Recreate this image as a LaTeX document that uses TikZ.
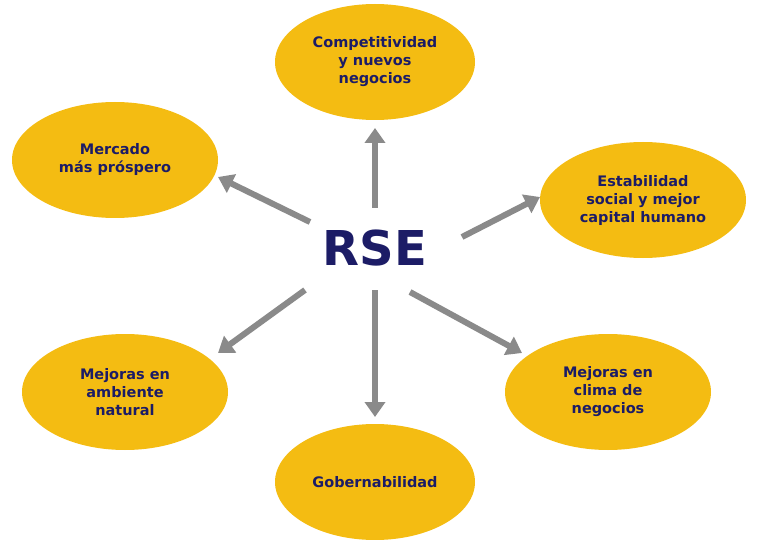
\documentclass[tikz,border=0pt]{standalone}
\usepackage{fontspec}
\setmainfont{DejaVu Sans}
\usetikzlibrary{shapes.geometric,arrows.meta}
\definecolor{oro}{HTML}{F4BC12}
\definecolor{navy}{HTML}{1C1C66}
\definecolor{gris}{HTML}{8A8A8A}
\tikzset{
  elip/.style={ellipse,fill=oro,draw=none,minimum width=#1,minimum height=116pt,inner sep=0pt,align=center,font=\bfseries\fontsize{14.5}{18}\selectfont,text=navy},
  elip/.default=206pt,
  flecha/.style={draw=gris,line width=6pt,-{Triangle[length=15pt,width=20pt]}}
}
\begin{document}
\begin{tikzpicture}[x=1pt,y=-1pt]
\useasboundingbox (0,0) rectangle (760,540);
\node[elip=200pt] (comp) at (375,62) {Competitividad\\y nuevos\\negocios};
\node[elip] (merc) at (115,160) {Mercado\\más próspero};
\node[elip] (est) at (643,200) {Estabilidad\\social y mejor\\capital humano};
\node[elip] (amb) at (125,392) {Mejoras en\\ambiente\\natural};
\node[elip] (clima) at (608,392) {Mejoras en\\clima de\\negocios};
\node[elip=200pt] (gob) at (375,482) {Gobernabilidad};
\node[font=\bfseries\fontsize{48}{50}\selectfont,text=navy] (rse) at (375,248) {RSE};
\coordinate (a1) at (375,208); \coordinate (b1) at (375,128);
\coordinate (a2) at (310,222); \coordinate (b2) at (218,177);
\coordinate (a3) at (462,237); \coordinate (b3) at (540,197);
\coordinate (a4) at (305,290); \coordinate (b4) at (218,353);
\coordinate (a5) at (410,292); \coordinate (b5) at (522,353);
\coordinate (a6) at (375,290); \coordinate (b6) at (375,417);
\foreach \i in {1,...,6}{\draw[flecha] (a\i) -- (b\i);}
\end{tikzpicture}
\end{document}
